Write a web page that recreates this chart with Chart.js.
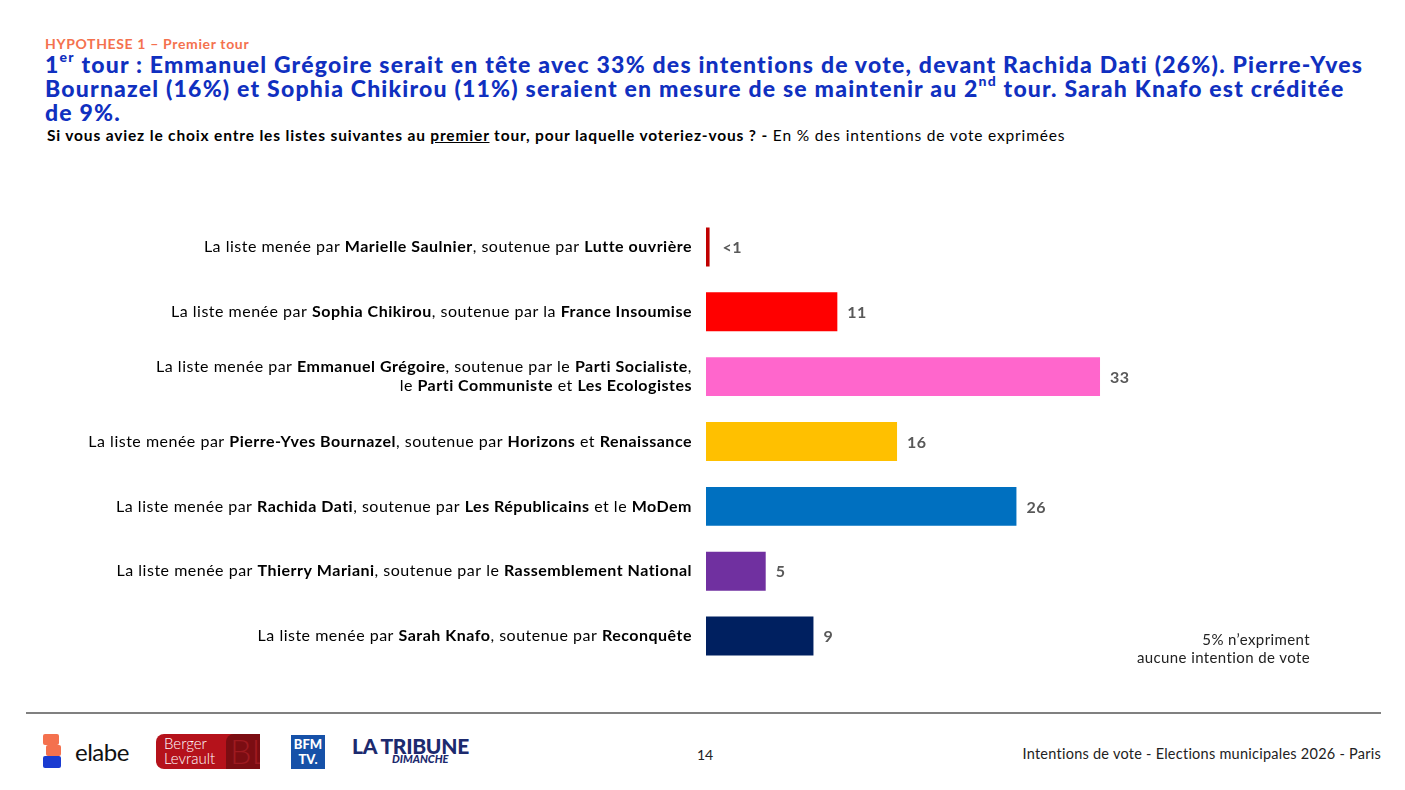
<!DOCTYPE html>
<html>
<head>
<meta charset="utf-8">
<script src="https://cdn.jsdelivr.net/npm/chart.js@4"></script>
<style>
  body { margin: 0; width: 1405px; height: 790px; background: #fff; font-family: Lato, "Open Sans", sans-serif; position: relative; overflow: hidden; }
  .abs { position: absolute; }
  #kicker { left: 45px; top: 35px; color: #f4714e; font-weight: 700; font-size: 14px; letter-spacing: 0.65px; }
  #title { left: 45px; top: 52px; width: 1335px; color: #1030c0; font-weight: 900; font-size: 23px; line-height: 24px; letter-spacing: 1.2px; }
  #title sup { font-size: 14px; line-height: 0; position: relative; top: -2px; }
  #question { left: 47px; top: 126px; font-size: 15.5px; color: #000; letter-spacing: 0.84px; }
  #question b { font-weight: 700; }
  #wrap { left: 0; top: 200px; width: 1405px; height: 490px; }
  #note { right: 95px; top: 630px; text-align: right; font-size: 15px; line-height: 18px; color: #222; letter-spacing: 0.4px; }
  #rule { left: 26px; top: 712px; width: 1355px; height: 2px; background: #808080; }
  #page { left: 697px; top: 746px; font-size: 14px; color: #222; }
  #source { right: 24px; top: 745px; font-size: 14.5px; color: #222; letter-spacing: 0.25px; }
</style>
</head>
<body>
<div id="kicker" class="abs">HYPOTHESE 1 – Premier tour</div>
<div id="title" class="abs">1<sup>er</sup> tour : Emmanuel Grégoire serait en tête avec 33% des intentions de vote, devant Rachida Dati (26%). Pierre-Yves Bournazel (16%) et Sophia Chikirou (11%) seraient en mesure de se maintenir au 2<sup>nd</sup> tour. Sarah Knafo est créditée de&nbsp;9%.</div>
<div id="question" class="abs"><b>Si vous aviez le choix entre les listes suivantes au <u>premier</u> tour, pour laquelle voteriez-vous ? -</b> En % des intentions de vote exprimées</div>

<div id="wrap" class="abs"><canvas id="chart"></canvas></div>

<div id="note" class="abs">5% n’expriment<br>aucune intention de vote</div>
<div id="rule" class="abs"></div>

<!-- logos -->
<div class="abs" style="left:43px;top:734px;width:18px;height:34px;">
  <div class="abs" style="left:0;top:0;width:16px;height:11px;background:#f4714e;border-radius:2px;"></div>
  <div class="abs" style="left:3px;top:11px;width:15px;height:11px;background:#f4714e;border-radius:2px;"></div>
  <div class="abs" style="left:0;top:22px;width:18px;height:12px;background:#1a3bd1;border-radius:2px;"></div>
</div>
<div class="abs" style="left:75px;top:737px;font-size:24px;color:#111;letter-spacing:-0.5px;">elabe</div>
<div class="abs" style="left:156px;top:734px;width:104px;height:35px;background:#b5121b;border-radius:8px 0 0 8px;overflow:hidden;">
  <div class="abs" style="left:70px;top:0;width:34px;height:35px;background:#7b0d12;border-radius:8px 0 0 0;"></div>
  <div class="abs" style="left:74px;top:-4px;color:#9e1a20;font-size:34px;font-weight:300;">BL</div>
  <div class="abs" style="left:8px;top:2px;color:#fff;font-size:15px;line-height:15px;font-weight:300;">Berger<br>Levrault</div>
</div>
<div class="abs" style="left:291px;top:735px;width:34px;height:34px;background:#1651a8;color:#fff;font-weight:900;font-size:13px;line-height:15px;text-align:center;padding-top:2px;box-sizing:border-box;">BFM<br>TV.</div>
<div class="abs" style="left:352px;top:736px;color:#1c2a6e;font-weight:900;font-size:21px;line-height:20px;letter-spacing:-0.3px;">LA TRIBUNE</div>
<div class="abs" style="left:392px;top:752px;color:#1c2a6e;font-weight:900;font-style:italic;font-size:11px;">DIMANCHE</div>

<div id="page" class="abs">14</div>
<div id="source" class="abs">Intentions de vote - Elections municipales 2026 - Paris</div>

<script>
// one entry per list, top to bottom; **text** = bold
const categories = [
  ["La liste menée par **Marielle Saulnier**, soutenue par **Lutte ouvrière**"],
  ["La liste menée par **Sophia Chikirou**, soutenue par la **France Insoumise**"],
  ["La liste menée par **Emmanuel Grégoire**, soutenue par le **Parti Socialiste**,", "le **Parti Communiste** et **Les Ecologistes**"],
  ["La liste menée par **Pierre-Yves Bournazel**, soutenue par **Horizons** et **Renaissance**"],
  ["La liste menée par **Rachida Dati**, soutenue par **Les Républicains** et le **MoDem**"],
  ["La liste menée par **Thierry Mariani**, soutenue par le **Rassemblement National**"],
  ["La liste menée par **Sarah Knafo**, soutenue par **Reconquête**"]
];
const values = [0.3, 11, 33, 16, 26, 5, 9];
const valueLabels = ["<1", "11", "33", "16", "26", "5", "9"];
const barColors = ["#c00000", "#ff0000", "#ff66cc", "#ffc000", "#0070c0", "#7030a0", "#002060"];

const FONT = "Lato, 'Open Sans', sans-serif";

function drawRich(ctx, line, xRight, y) {
  const parts = line.split("**").map((t, i) => ({ text: t, bold: i % 2 === 1 }));
  const fontFor = p => (p.bold ? "700 " : "400 ") + "16px " + FONT;
  let total = 0;
  parts.forEach(p => { ctx.font = fontFor(p); total += ctx.measureText(p.text).width; });
  let x = xRight - total;
  parts.forEach(p => {
    ctx.font = fontFor(p);
    ctx.fillText(p.text, x, y);
    x += ctx.measureText(p.text).width;
  });
}

const labelPlugin = {
  id: "labels",
  afterDatasetsDraw(chart) {
    const ctx = chart.ctx;
    const yScale = chart.scales.y;
    const xScale = chart.scales.x;
    ctx.save();
    ctx.textBaseline = "middle";
    ctx.textAlign = "left";
    categories.forEach((lines, i) => {
      const yc = yScale.getPixelForValue(i);
      ctx.fillStyle = "#000";
      ctx.letterSpacing = "0.5px";
      const lh = 19;
      lines.forEach((line, j) => {
        const y = yc + (j - (lines.length - 1) / 2) * lh;
        drawRich(ctx, line, chart.chartArea.left - 14, y);
      });
      ctx.fillStyle = "#595959";
      ctx.font = "700 16px " + FONT;
      ctx.fillText(valueLabels[i], xScale.getPixelForValue(values[i]) + (i === 0 ? 13 : 10), yc + 1);
    });
    ctx.restore();
  }
};

new Chart(document.getElementById("chart"), {
  type: "bar",
  data: {
    labels: categories.map(c => c.join(" ")),
    datasets: [{
      data: values,
      backgroundColor: barColors,
      barPercentage: 0.6,
      categoryPercentage: 1
    }]
  },
  options: {
    indexAxis: "y",
    responsive: true,
    maintainAspectRatio: false,
    animation: false,
    layout: { padding: { left: 706, right: 221.4, top: 14.5, bottom: 21.5 } },
    plugins: { legend: { display: false }, tooltip: { enabled: false } },
    scales: {
      x: { display: false, min: 0, max: 40 },
      y: { display: false }
    }
  },
  plugins: [labelPlugin]
});
</script>
</body>
</html>
